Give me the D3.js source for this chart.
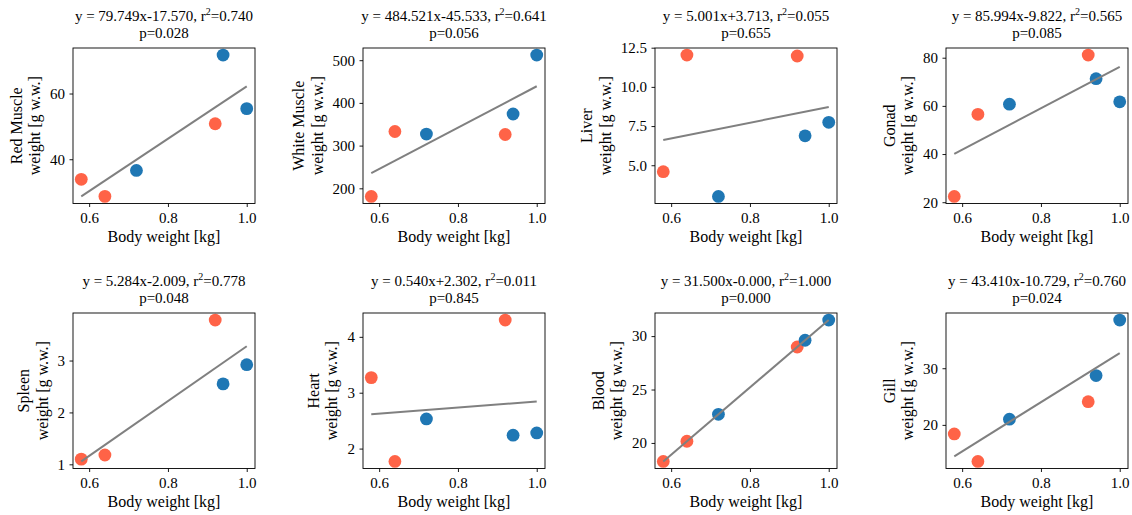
<!DOCTYPE html>
<html>
<head>
<meta charset="utf-8">
<script src="https://cdn.jsdelivr.net/npm/d3@7"></script>
<style>
  html, body { margin: 0; padding: 0; background: #fff; }
  svg { display: block; font-family: "Liberation Serif", "Times New Roman", serif; }
</style>
</head>
<body>
<svg id="chart" width="1132" height="515"></svg>
<script>
// Body weight of each fish [kg] and the group it belongs to
const bodyWeight = [0.58, 0.64, 0.72, 0.92, 0.94, 1.00];
const group = [1, 1, 0, 1, 0, 0];

// Organ names (one panel each)
const organs = ["Red Muscle", "White Muscle", "Liver", "Gonad", "Spleen", "Heart", "Blood", "Gill"];

// Organ wet weights [g w.w.] per fish, same order as bodyWeight
const redMuscle   = [33.9, 28.7, 36.6, 50.8, 71.7, 55.4];
const whiteMuscle = [181, 333, 327, 326, 374, 512];
const liver       = [4.59, 12.03, 3.01, 11.97, 6.88, 7.74];
const gonad       = [22.4, 56.5, 60.7, 81.1, 71.3, 61.7];
const spleen      = [1.10, 1.18, null, 3.78, 2.55, 2.92];
const heart       = [3.27, 1.77, 2.53, 4.30, 2.24, 2.28];
const blood       = [18.27, 20.16, 22.68, 28.98, 29.61, 31.50];
const gill        = [18.4, 13.55, 21.0, 24.1, 28.7, 38.5];

// Linear fit results per organ
const slopes     = [79.749, 484.521, 5.001, 85.994, 5.284, 0.540, 31.500, 43.410];
const intercepts = [-17.570, -45.533, 3.713, -9.822, -2.009, 2.302, -0, -10.729];
const rSquared   = [0.740, 0.641, 0.055, 0.565, 0.778, 0.011, 1.000, 0.760];
const pValues    = [0.028, 0.056, 0.655, 0.085, 0.048, 0.845, 0.000, 0.024];

// Tick labels
const xTickLabels = ["0.6", "0.8", "1.0"];
const yTickLabels = [
  ["40", "60"],
  ["200", "300", "400", "500"],
  ["5.0", "7.5", "10.0", "12.5"],
  ["20", "40", "60", "80"],
  ["1", "2", "3"],
  ["2", "3", "4"],
  ["20", "25", "30"],
  ["20", "30"]
];

const xLabel = "Body weight [kg]";
const yUnit = "weight [g w.w.]";

// ---- layout ----
const groupColors = ["#1f77b4", "#ff6347"];
const colLeft = [73, 363, 655, 946];
const rowTop = [48, 313];
const plotW = 182, plotH = 155.5;
const tickFont = 15, labelFont = 16, titleFont = 15;

const organValues = [redMuscle, whiteMuscle, liver, gonad, spleen, heart, blood, gill];
const svg = d3.select("#chart");

const fmt3 = v => v.toFixed(3);
const signed = v => ((v < 0 || Object.is(v, -0)) ? "-" : "+") + Math.abs(v).toFixed(3);

organs.forEach((organ, i) => {
  const col = i % 4, row = Math.floor(i / 4);
  const g = svg.append("g").attr("transform", `translate(${colLeft[col]},${rowTop[row]})`);

  const pts = bodyWeight
    .map((bw, j) => ({ x: bw, y: organValues[i][j], grp: group[j] }))
    .filter(d => d.y != null);

  const [xMin, xMax] = d3.extent(pts, d => d.x);
  const fit = [xMin, xMax].map(xv => ({ x: xv, y: slopes[i] * xv + intercepts[i] }));

  const xPad = (xMax - xMin) * 0.05;
  const x = d3.scaleLinear().domain([xMin - xPad, xMax + xPad]).range([0, plotW]);
  const [yLo, yHi] = d3.extent(pts.map(d => d.y).concat(fit.map(d => d.y)));
  const yPad = (yHi - yLo) * 0.05;
  const y = d3.scaleLinear().domain([yLo - yPad, yHi + yPad]).range([plotH, 0]);

  // axes
  const xTickVals = xTickLabels.map(Number);
  const xAxis = g.append("g").attr("transform", `translate(0,${plotH})`)
    .call(d3.axisBottom(x).tickValues(xTickVals).tickFormat((d, k) => xTickLabels[k])
      .tickSize(3.5).tickPadding(5));
  const yTickVals = yTickLabels[i].map(Number);
  const yAxis = g.append("g")
    .call(d3.axisLeft(y).tickValues(yTickVals).tickFormat((d, k) => yTickLabels[i][k])
      .tickSize(3.5).tickPadding(4.5));
  [xAxis, yAxis].forEach(a => {
    a.select(".domain").remove();
    a.attr("font-family", null).attr("font-size", null);
    a.selectAll("line").attr("stroke", "#000").attr("stroke-width", 0.9);
    a.selectAll("text").attr("fill", "#000").style("font-size", tickFont + "px");
  });

  // points
  g.append("g").selectAll("circle").data(pts).join("circle")
    .attr("cx", d => x(d.x)).attr("cy", d => y(d.y)).attr("r", 6.4)
    .attr("fill", d => groupColors[d.grp]);

  // fitted line
  g.append("path").datum(fit)
    .attr("d", d3.line().x(d => x(d.x)).y(d => y(d.y)))
    .attr("fill", "none").attr("stroke", "#808080").attr("stroke-width", 2);

  // frame
  g.append("rect").attr("x", 0).attr("y", 0).attr("width", plotW).attr("height", plotH)
    .attr("fill", "none").attr("stroke", "#000").attr("stroke-width", 0.9);

  // title: fit equation and p-value
  const t = g.append("text").attr("text-anchor", "middle")
    .attr("x", plotW / 2).attr("y", -27.5).style("font-size", titleFont + "px");
  t.append("tspan").text(`y = ${fmt3(slopes[i])}x${signed(intercepts[i])}, r`);
  t.append("tspan").attr("dy", -6).style("font-size", "10px").text("2");
  t.append("tspan").attr("dy", 6).text(`=${fmt3(rSquared[i])}`);
  g.append("text").attr("text-anchor", "middle")
    .attr("x", plotW / 2).attr("y", -10).style("font-size", titleFont + "px")
    .text(`p=${fmt3(pValues[i])}`);

  // x label
  g.append("text").attr("text-anchor", "middle")
    .attr("x", plotW / 2).attr("y", plotH + 38).style("font-size", labelFont + "px")
    .text(xLabel);

  // y label, two lines, placed left of the tick labels
  const tickW = d3.max(yAxis.selectAll("text").nodes(), n => n.getBBox().width);
  const right = -(3.5 + 4.5 + tickW + 6);
  const yl = g.append("text").attr("text-anchor", "middle")
    .attr("transform", `translate(${right - 4},${plotH / 2}) rotate(-90)`)
    .style("font-size", labelFont + "px");
  yl.append("tspan").attr("x", 0).attr("dy", "-1.15em").text(organ);
  yl.append("tspan").attr("x", 0).attr("dy", "1.15em").text(yUnit);
});
</script>
</body>
</html>
